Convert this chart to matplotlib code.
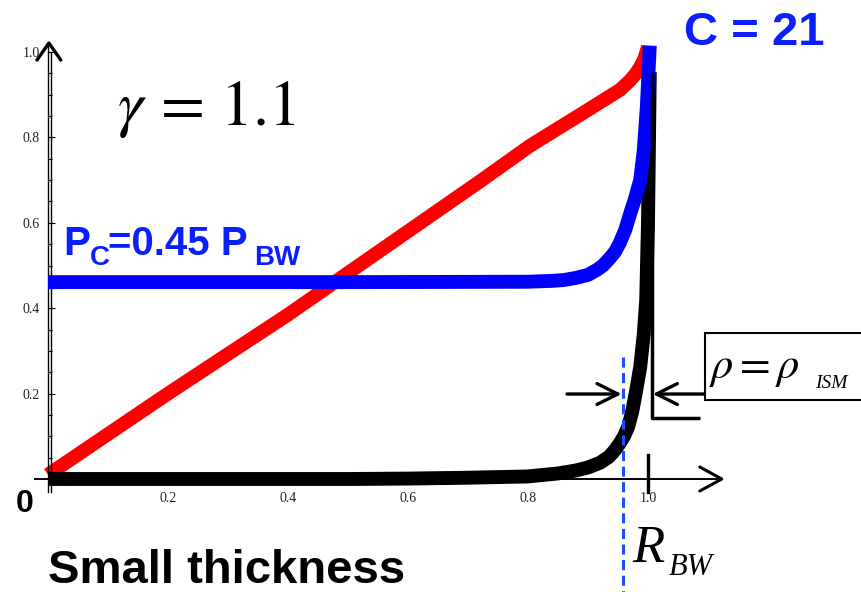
import matplotlib
matplotlib.use("Agg")
import matplotlib.pyplot as plt
from matplotlib.patches import Rectangle

W, H = 861, 592

# normalised radius r / R_BW
vel_x = [0.0, 0.2, 0.4, 0.478, 0.6, 0.72, 0.76, 0.803, 0.85, 0.887, 0.92,
         0.953, 0.97, 0.98, 0.987, 0.994, 1.0]
vel_y = [0.01, 0.2, 0.385, 0.461, 0.58, 0.697, 0.737, 0.78, 0.821, 0.853, 0.882,
         0.911, 0.933, 0.95, 0.965, 0.985, 1.012]

pres_x = [0.0, 0.5, 0.8, 0.84, 0.86, 0.88, 0.9, 0.915, 0.925, 0.935, 0.945,
          0.953, 0.962, 0.97, 0.978, 0.987, 0.993, 0.998, 1.003]
pres_y = [0.461, 0.461, 0.462, 0.464, 0.466, 0.471, 0.478, 0.49, 0.5, 0.515, 0.532,
          0.553, 0.583, 0.62, 0.655, 0.70, 0.77, 0.87, 1.015]

dens_x = [0.0, 0.5, 0.6, 0.7, 0.8, 0.85, 0.88, 0.9, 0.92, 0.935, 0.945, 0.953,
          0.96, 0.967, 0.974, 0.98, 0.987, 0.993, 0.997, 1.0, 1.003]
dens_y = [0.0, 0.0, 0.001, 0.003, 0.006, 0.013, 0.02, 0.027, 0.038, 0.052, 0.068, 0.084,
          0.1, 0.122, 0.16, 0.205, 0.262, 0.34, 0.42, 0.6, 0.953]

# jump down to the ambient density outside the shock
ism_x = [1.007, 1.007, 1.087]
ism_y = [0.953, 0.143, 0.143]

shell_inner = 0.958
arrow_y = 0.199

xticks = [0.2, 0.4, 0.6, 0.8, 1.0]
xlabels = ["0.2", "0.4", "0.6", "0.8", "1.0"]
yticks = [0.2, 0.4, 0.6, 0.8, 1.0]
ylabels = ["0.2", "0.4", "0.6", "0.8", "1.0"]

BLUE = "#0000ff"
TXT_BLUE = "#0b1eff"

fig = plt.figure(figsize=(W / 100, H / 100), dpi=100)
ax = fig.add_axes([0, 0, 1, 1])
ax.set_xlim(-48 / 600, (W - 48) / 600)
ax.set_ylim((479 - H) / 427, 479 / 427)

# px per data unit, used for arrow heads
sx, sy = 1 / 600, 1 / 427

for s in ["top", "right"]:
    ax.spines[s].set_visible(False)
ax.spines["left"].set_position(("data", 0))
ax.spines["bottom"].set_position(("data", 0))
ax.spines["left"].set_bounds(-0.03, 1.02)
ax.spines["bottom"].set_bounds(-0.022, 1.12)
ax.spines["left"].set_linewidth(1.0)
ax.spines["bottom"].set_linewidth(1.4)
ax.plot([0.005, 0.005], [-0.03, 1.0], color="black", lw=1.0, zorder=2.5)

ax.set_xticks(xticks)
ax.set_xticklabels(xlabels)
ax.set_yticks(yticks)
ax.set_yticklabels(ylabels)
ax.set_yticks([i * 0.05 for i in range(1, 20) if i % 4 != 0], minor=True)
ax.tick_params(axis="x", direction="in", length=4, width=0.8, pad=9,
               labelsize=10, labelcolor="#202030")
ax.tick_params(axis="y", direction="in", length=5, width=0.8, pad=6,
               labelsize=10, labelcolor="#202030")
ax.tick_params(axis="y", which="minor", direction="in", length=3, width=0.8)
for lab in ax.get_xticklabels() + ax.get_yticklabels():
    lab.set_family("Liberation Serif")

# axis arrow heads
tip = 1.021
ax.plot([-11 * sx, 0.0015, 11 * sx + 0.003], [tip - 17 * sy, tip, tip - 17 * sy],
        color="black", lw=2.4, solid_capstyle="round", zorder=3)
tipx = 1.123
ax.plot([tipx - 22 * sx, tipx, tipx - 22 * sx], [12 * sy, 0, -12 * sy],
        color="black", lw=2.2, solid_capstyle="round", zorder=3)
# marker at the shock radius
ax.plot([1.0, 1.0], [-0.03, 0.056], color="black", lw=2.4, zorder=3)

# profiles
thick = dict(lw=10, solid_capstyle="butt", solid_joinstyle="round")
ax.plot(vel_x, vel_y, color="#ff0000", zorder=2, **thick)
ax.plot(dens_x, dens_y, color="black", zorder=2.2, **thick)
ax.plot(pres_x, pres_y, color=BLUE, zorder=2.6, **thick)
ax.plot(ism_x, ism_y, color="black", lw=2.5, solid_capstyle="butt", zorder=3)

# inner edge of the shell
ax.plot([shell_inner, shell_inner], [0.286, -0.3], color="#1f4bff", lw=2.2,
        ls=(0, (3.3, 1.8)), zorder=4)

# thickness arrows
head = dict(arrowstyle="->,head_length=1.5,head_width=0.75", lw=2.4,
            color="black", shrinkA=0, shrinkB=0)
ax.annotate("", xy=(shell_inner - 0.002, arrow_y), xytext=(0.865, arrow_y),
            arrowprops=head, zorder=5)
ax.annotate("", xy=(1.008, arrow_y), xytext=(1.095, arrow_y),
            arrowprops=head, zorder=5)

# label box for the ambient density
ax.add_patch(Rectangle((1.095, (479 - 400) / 427), 0.4, 67 / 427,
                       facecolor="white", edgecolor="black", lw=1.5, zorder=5))


def ftxt(x, y, s, **kw):
    fig.text(x / W, 1 - y / H, s, va="baseline", ha="left", **kw)


ftxt(117, 125, r"$\gamma\,=\,1.1$", fontsize=46, math_fontfamily="stix")

bold = dict(family="Liberation Sans", weight="bold")
ftxt(63, 255, "P", fontsize=29, color=TXT_BLUE, **bold)
ftxt(90, 265, "C", fontsize=20, color=TXT_BLUE, **bold)
ftxt(108, 255, "=0.45 P", fontsize=29, color=TXT_BLUE, **bold)
ftxt(254, 265, "BW", fontsize=20, color=TXT_BLUE, **bold)

ftxt(684, 45, "C = 21", fontsize=34, color=TXT_BLUE, **bold)
ftxt(16, 512, "0", fontsize=23, color="black", **bold)
ftxt(48, 583, "Small thickness", fontsize=34, color="black", **bold)

ftxt(709, 378, r"$\rho = \rho$", fontsize=32, math_fontfamily="stix", zorder=6)
ftxt(815, 388, "ISM", fontsize=14, family="Liberation Serif", style="italic", zorder=6)

ftxt(632, 562, "R", fontsize=38, family="Liberation Serif", style="italic")
ftxt(669, 575, "BW", fontsize=22, family="Liberation Serif", style="italic")

fig.savefig("out.png", dpi=100)
